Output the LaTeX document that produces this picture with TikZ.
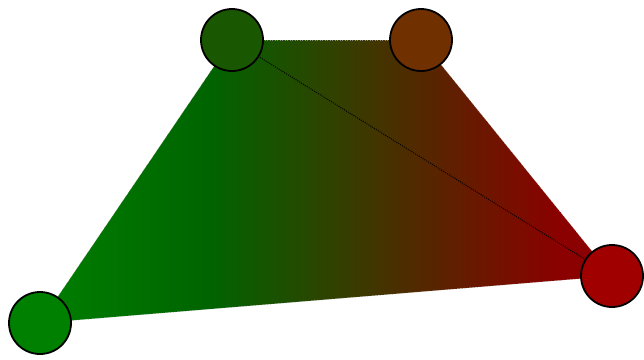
\documentclass[tikz,border=0pt]{standalone}
\usetikzlibrary{backgrounds}
\definecolor{cgreen}{RGB}{0,128,0}
\definecolor{cdkgreen}{RGB}{0,100,0}
\definecolor{cdkred}{RGB}{139,0,0}
\definecolor{ctl}{RGB}{25,88,0}
\definecolor{ctr}{RGB}{112,48,0}
\definecolor{cr}{RGB}{160,0,0}
\definecolor{cbl}{RGB}{0,128,0}
\tikzset{
  vert/.style={circle, draw=black, line width=1.8pt, minimum size=62pt, inner sep=0pt},
  edgeline/.style={dotted, line width=0.5pt, draw=black!45},
  diag/.style={dash pattern=on 1pt off 1.2pt, line width=1pt, draw=black}
}
\begin{document}
\begin{tikzpicture}[x=1pt,y=-1pt]
\useasboundingbox (0,0) rectangle (644,359);
\node[vert, fill=ctl] (tl) at (232,40) {};
\node[vert, fill=ctr] (tr) at (421,40) {};
\node[vert, fill=cbl] (bl) at (40,323) {};
\node[vert, fill=cr] (r) at (612,276) {};
\begin{scope}[on background layer]
  \begin{scope}
    \clip (tl.center) -- (tr.center) -- (r.center) -- (bl.center) -- cycle;
    \shade[left color=cgreen, right color=cdkgreen] (30,0) rectangle (211,359);
    \shade[left color=cdkgreen, right color=cdkred] (210,0) rectangle (561,359);
    \fill[cdkred] (560,0) rectangle (630,359);
  \end{scope}
  \draw[edgeline] (tl.center) -- (tr.center);
  \draw[edgeline] (tr.center) -- (r.center);
  \draw[edgeline] (r.center) -- (bl.center);
  \draw[edgeline] (bl.center) -- (tl.center);
  \draw[diag] (tl.center) -- (r.center);
\end{scope}
\end{tikzpicture}
\end{document}
